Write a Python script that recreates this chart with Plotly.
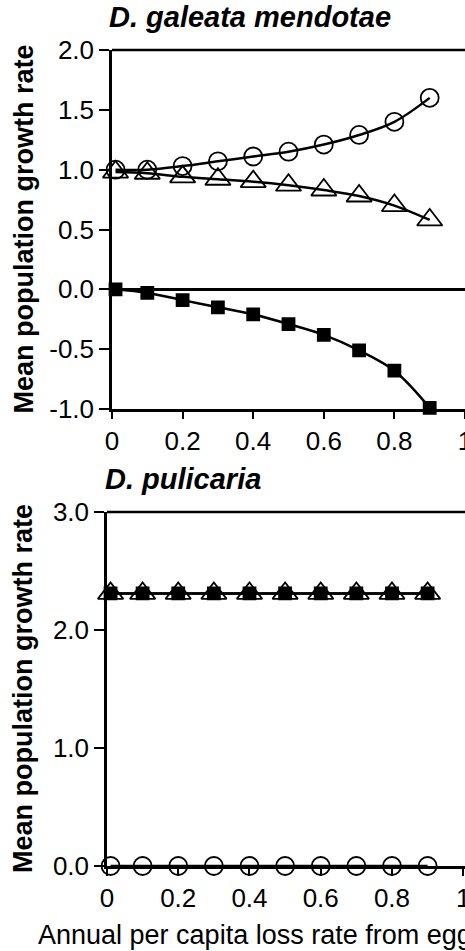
import plotly.graph_objects as go

# Annual per capita loss rate from the egg bank (x positions of the model runs)
loss_rate = [0.01, 0.1, 0.2, 0.3, 0.4, 0.5, 0.6, 0.7, 0.8, 0.9]

# D. galeata mendotae: mean population growth rate for the three scenarios
galeata_circle = [1.00, 1.00, 1.03, 1.07, 1.11, 1.15, 1.21, 1.29, 1.40, 1.60]
galeata_triangle = [0.98, 0.97, 0.94, 0.92, 0.90, 0.87, 0.83, 0.78, 0.70, 0.58]
galeata_square = [0.00, -0.03, -0.09, -0.15, -0.21, -0.29, -0.38, -0.51, -0.68, -0.99]

# D. pulicaria: mean population growth rate for the same scenarios
pulicaria_circle = [0.00, 0.00, 0.00, 0.00, 0.00, 0.00, 0.00, 0.00, 0.00, 0.00]
pulicaria_triangle = [2.31, 2.31, 2.31, 2.31, 2.31, 2.31, 2.31, 2.31, 2.31, 2.31]
pulicaria_square = [2.31, 2.31, 2.31, 2.31, 2.31, 2.31, 2.31, 2.31, 2.31, 2.31]

x_ticks = [0, 0.2, 0.4, 0.6, 0.8, 1]
x_ticktext = ["0", "0.2", "0.4", "0.6", "0.8", "1"]
top_y_ticks = [-1.0, -0.5, 0.0, 0.5, 1.0, 1.5, 2.0]
top_y_ticktext = ["-1.0", "-0.5", "0.0", "0.5", "1.0", "1.5", "2.0"]
bottom_y_ticks = [0.0, 1.0, 2.0, 3.0]
bottom_y_ticktext = ["0.0", "1.0", "2.0", "3.0"]

FONT = "Liberation Sans, Arial, Helvetica, sans-serif"
W, H = 465, 951

fig = go.Figure()

def add_series(y, symbol, size, xa, ya, filled=False):
    fig.add_trace(go.Scatter(
        x=loss_rate, y=y, mode="lines+markers",
        xaxis=xa, yaxis=ya,
        line=dict(color="black", width=2.5, shape="spline", smoothing=1),
        marker=dict(symbol=symbol, size=size,
                    color="black" if filled else "rgba(0,0,0,0)",
                    line=dict(color="black", width=1.8)),
        cliponaxis=False, showlegend=False, hoverinfo="skip",
    ))

# Top panel
add_series(galeata_circle, "circle", 18, "x", "y")
add_series(galeata_triangle, "triangle-up", 22, "x", "y")
add_series(galeata_square, "square", 12, "x", "y", filled=True)

# Bottom panel
add_series(pulicaria_circle, "circle", 18, "x2", "y2")
add_series(pulicaria_triangle, "triangle-up", 22, "x2", "y2")
add_series(pulicaria_square, "square", 12, "x2", "y2", filled=True)

def px_x(p):
    return p / W

def px_y(p):
    return 1 - p / H

tick_font = dict(family=FONT, size=26, color="black")
axis_common = dict(
    showline=True, linecolor="black", linewidth=2.5,
    ticks="outside", tickcolor="black", tickwidth=1.5,
    showgrid=False, tickfont=tick_font, fixedrange=True, automargin=False,
)

fig.update_layout(
    template="none",
    width=W, height=H,
    margin=dict(l=0, r=0, t=0, b=0, pad=0, autoexpand=False),
    paper_bgcolor="white", plot_bgcolor="white",
    font=dict(family=FONT, color="black"),
    xaxis=dict(domain=[px_x(112), 1], range=[0, 1.0], anchor="y",
               tickvals=x_ticks, ticktext=x_ticktext, ticklen=7,
               zeroline=False, ticklabelstandoff=0, ticklabeloverflow="allow",
               **axis_common),
    yaxis=dict(domain=[px_y(409), px_y(50)], range=[-1.0, 2.0], anchor="x",
               tickvals=top_y_ticks, ticktext=top_y_ticktext, ticklen=10,
               zeroline=True, zerolinecolor="black", zerolinewidth=2.5,
               **axis_common),
    xaxis2=dict(domain=[px_x(107), 1], range=[0, 1.005], anchor="y2",
                tickvals=x_ticks, ticktext=x_ticktext, ticklen=7,
                zeroline=False, ticklabelstandoff=0, ticklabeloverflow="allow",
                **axis_common),
    yaxis2=dict(domain=[px_y(866), px_y(512)], range=[0.0, 3.0], anchor="x2",
                tickvals=bottom_y_ticks, ticktext=bottom_y_ticktext, ticklen=10,
                zeroline=False, **axis_common),
)

# Top frame lines of both panels
for xr, yr in (("x domain", "y domain"), ("x2 domain", "y2 domain")):
    fig.add_shape(type="line", xref=xr, yref=yr, x0=0, x1=1, y0=1, y1=1,
                  line=dict(color="black", width=2.5))

title_font = dict(family=FONT, size=29, color="black")
fig.add_annotation(text="<b><i>D. galeata mendotae</i></b>", xref="paper", yref="paper",
                   x=px_x(107), y=px_y(17), xanchor="left", yanchor="middle",
                   showarrow=False, font=title_font)
fig.add_annotation(text="<b><i>D. pulicaria</i></b>", xref="paper", yref="paper",
                   x=px_x(103), y=px_y(479), xanchor="left", yanchor="middle",
                   showarrow=False, font=title_font)

ytitle_font = dict(family=FONT, size=27, color="black")
for yc in ((50 + 409) / 2, (512 + 866) / 2):
    fig.add_annotation(text="<b>Mean population growth rate</b>", xref="paper", yref="paper",
                       x=px_x(23), y=px_y(yc), xanchor="center", yanchor="middle",
                       textangle=-90, showarrow=False, font=ytitle_font)

fig.add_annotation(text="Annual per capita loss rate from egg bank", xref="paper", yref="paper",
                   x=px_x(36), y=px_y(935), xanchor="left", yanchor="middle",
                   showarrow=False, font=dict(family=FONT, size=27, color="black"))

fig.write_html("out.html")
